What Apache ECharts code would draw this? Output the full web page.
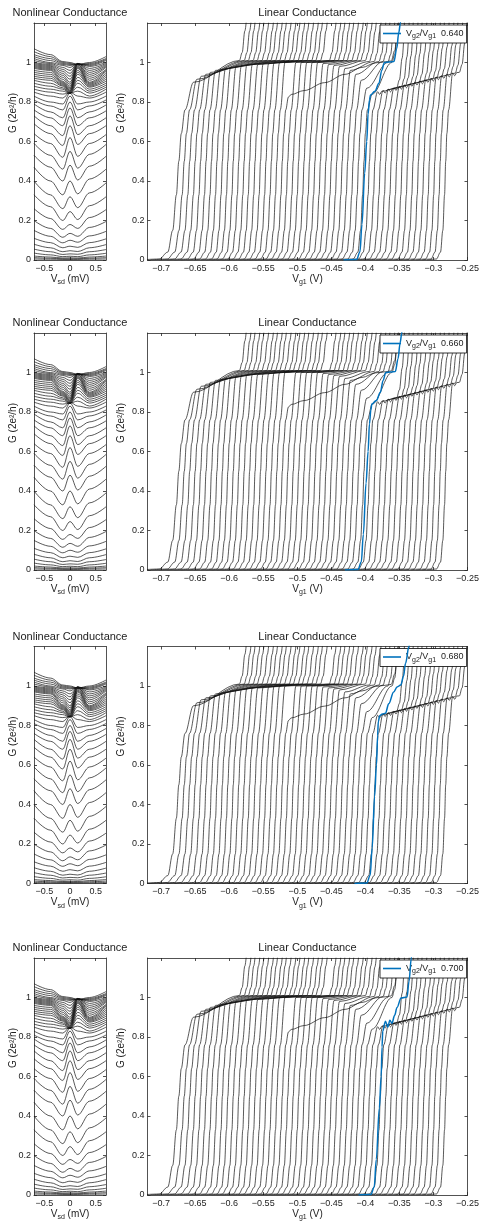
<!DOCTYPE html>
<html><head><meta charset="utf-8">
<script src="https://cdn.jsdelivr.net/npm/echarts@6/dist/echarts.min.js"></script>
<style>html,body{margin:0;padding:0;background:#fff}#c{width:485px;height:1226px}</style>
</head><body><div id="c"></div>
<script>
// ---------------- DATA ----------------
const ratioLabels = ['0.640', '0.660', '0.680', '0.700'];
const nlTicks = [-0.5, 0, 0.5];
const linTicks = [-0.7, -0.65, -0.6, -0.55, -0.5, -0.45, -0.4, -0.35, -0.3, -0.25];
const gTicks = [0, 0.2, 0.4, 0.6, 0.8, 1];

// Nonlinear conductance: knot bias positions (mV) and per-trace G values at those knots
const nlX = [-0.7, -0.38, -0.14, 0, 0.15, 0.38, 0.7];
const nlEdgeL = [0.005,0.012,0.02,0.035,0.055,0.08,0.11,0.15,0.2,0.26,0.33,0.4,0.47,0.53,0.59,0.64,0.69,0.73,0.76,0.79,0.81,0.83,0.85,0.865,0.88,0.895,0.91,0.92,0.93,0.94,0.95,0.96,0.97,0.975,0.98,0.985,0.99,0.995,1.0,1.01,1.02,1.03,1.04,1.055,1.07];
const nlShL   = [0.004,0.009,0.015,0.026,0.042,0.062,0.088,0.12,0.16,0.21,0.27,0.33,0.4,0.47,0.53,0.59,0.64,0.68,0.72,0.75,0.78,0.8,0.83,0.85,0.865,0.88,0.895,0.91,0.92,0.93,0.94,0.95,0.96,0.965,0.97,0.975,0.98,0.985,0.99,0.995,1.0,1.01,1.02,1.03,1.04];
const nlDipL  = [0.003,0.006,0.01,0.017,0.028,0.042,0.062,0.087,0.115,0.155,0.2,0.26,0.33,0.4,0.46,0.52,0.58,0.63,0.68,0.72,0.76,0.79,0.82,0.84,0.855,0.865,0.872,0.88,0.885,0.89,0.895,0.9,0.905,0.915,0.925,0.935,0.945,0.955,0.965,0.975,0.985,0.99,0.995,1.0,1.005];
const nlPeak  = [0.003,0.006,0.011,0.019,0.031,0.047,0.07,0.1,0.135,0.18,0.245,0.32,0.4,0.48,0.55,0.62,0.68,0.73,0.77,0.8,0.83,0.845,0.85,0.845,0.843,0.843,0.845,0.848,0.852,0.856,0.86,0.866,0.872,0.88,0.89,0.9,0.915,0.93,0.945,0.96,0.975,0.985,0.99,0.995,1.0];
const nlDipR  = [0.003,0.006,0.01,0.017,0.029,0.043,0.064,0.09,0.12,0.16,0.205,0.265,0.335,0.405,0.465,0.525,0.585,0.635,0.68,0.72,0.76,0.79,0.83,0.855,0.875,0.895,0.91,0.925,0.94,0.95,0.96,0.97,0.975,0.98,0.985,0.99,0.99,0.995,0.995,0.995,0.995,0.99,0.99,0.99,0.99];
const nlShR   = [0.004,0.009,0.015,0.026,0.042,0.062,0.088,0.122,0.165,0.215,0.275,0.34,0.41,0.475,0.535,0.59,0.64,0.68,0.72,0.75,0.78,0.8,0.82,0.83,0.845,0.855,0.865,0.875,0.88,0.885,0.89,0.895,0.9,0.91,0.92,0.93,0.94,0.95,0.96,0.97,0.98,0.985,0.99,0.995,1.0];
const nlEdgeR = [0.005,0.012,0.02,0.034,0.053,0.078,0.107,0.145,0.195,0.255,0.32,0.39,0.46,0.525,0.585,0.635,0.68,0.72,0.755,0.785,0.81,0.83,0.85,0.865,0.875,0.885,0.895,0.905,0.915,0.925,0.935,0.945,0.955,0.96,0.965,0.975,0.98,0.985,0.99,0.995,1.0,1.01,1.015,1.02,1.03];

// Linear conductance: first-step rise shape (offset from G=0.5 crossing, V) and G
const riseDx = [-0.032, -0.016, -0.009, -0.005, -0.002, 0, 0.002, 0.005];
const riseG  = [0, 0.005, 0.04, 0.15, 0.33, 0.5, 0.64, 0.76];
// per trace: G=0.5 crossing, rise width factor, knee height, plateau end (V) and height, knee wiggle
const linXL = [-0.674,-0.666,-0.658,-0.650,-0.642,-0.634,-0.626,-0.618,-0.610,-0.602,
  -0.594,-0.586,-0.578,-0.570,-0.562,-0.554,-0.546,-0.538,-0.530,-0.522,
  -0.514,-0.506,-0.498,-0.490,-0.482,-0.474,-0.466,-0.458,-0.450,-0.442,
  -0.434,-0.426,-0.418,-0.410,-0.402,-0.394,-0.386,-0.378,-0.370,-0.362,
  -0.354,-0.346,-0.338,-0.330,-0.322,-0.314,-0.306,-0.298,-0.290,-0.282];
const linRiseW = [1.8,1.55,1.4,1.3,1.2,1.15,1.1,1.05,1.0,1.0, 1,1,1,1,1,1,1,1,1,1, 1,1,1,1,1,1,1,1,1,1,
  1,1,1,1,1,1,1,1,1,1, 0.95,0.95,0.9,0.9,0.9,0.9,0.85,0.85,0.85,0.85];
const linGK = [0.90,0.915,0.93,0.94,0.95,0.96,0.965,0.97,0.975,0.98,
  0.985,0.99,0.99,0.99,0.995,0.995,1.0,1.0,1.0,1.0,
  1.0,1.0,1.0,1.0,1.0,0.995,0.99,0.985,0.98,0.97,
  0.96,0.94,0.91,0.87,0.84,0.852,0.859,0.865,0.872,0.879,
  0.886,0.893,0.90,0.906,0.913,0.92,0.927,0.934,0.941,0.947];
const linXU = [-0.585,-0.578,-0.572,-0.565,-0.559,-0.552,-0.545,-0.539,-0.532,-0.526,
  -0.519,-0.512,-0.506,-0.499,-0.493,-0.486,-0.479,-0.473,-0.466,-0.460,
  -0.453,-0.446,-0.440,-0.433,-0.427,-0.420,-0.413,-0.407,-0.400,-0.394,
  -0.387,-0.380,-0.374,-0.367,-0.361,-0.354,-0.347,-0.341,-0.334,-0.328,
  -0.321,-0.314,-0.308,-0.301,-0.295,-0.288,-0.281,-0.275,-0.268,-0.262];
const linGU = [1.01,1.01,1.01,1.01,1.01,1.01,1.01,1.01,1.01,1.01,
  1.01,1.01,1.01,1.01,1.01,1.01,1.01,1.01,1.01,1.01,
  1.01,1.01,1.01,1.01,1.01,1.01,1.01,1.01,1.01,1.005,
  1.005,1.005,1.005,1.0,1.0,0.872,0.878,0.883,0.889,0.894,
  0.90,0.906,0.912,0.918,0.923,0.929,0.935,0.94,0.946,0.95];
const linWiggle = [0,0,0,0,0,0,0,0,0,0, 0,0,0,0,0,0,0,0,0,0, 0,0,0,0,0,0,0,0,0,0,
  0,0,0,0,0,0.014,0.014,0.014,0.014,0.014, 0.014,0.014,0.014,0.014,0.014,0.014,0.014,0.014,0.014,0.014];
// trace 19 has a long sloping 0.835 -> 1 shoulder
const linOutlierIndex = 19;
const linOutlier = [[-0.554,0],[-0.538,0.005],[-0.531,0.04],[-0.527,0.15],[-0.524,0.33],[-0.522,0.5],[-0.52,0.64],[-0.517,0.76],[-0.513,0.825],[-0.509,0.838],[-0.49,0.858],[-0.46,0.898],[-0.43,0.94],[-0.405,0.975],[-0.385,0.998],[-0.37,1.004],[-0.362,1.008],[-0.357,1.06],[-0.352,1.2],[-0.349,1.3]];
// highlighted (blue) trace in each panel
const blue640 = [[-0.432,0],[-0.413,0.002],[-0.408,0.04],[-0.405,0.18],[-0.401,0.44],[-0.398,0.6],[-0.396,0.74],[-0.394,0.81],[-0.3925,0.835],[-0.386,0.855],[-0.38,0.895],[-0.376,0.96],[-0.372,1.0],[-0.365,1.003],[-0.358,1.005],[-0.354,1.07],[-0.351,1.15],[-0.3485,1.2],[-0.347,1.25]];
const blue660 = [[-0.43,0],[-0.411,0.002],[-0.406,0.04],[-0.403,0.18],[-0.399,0.44],[-0.396,0.6],[-0.394,0.74],[-0.392,0.81],[-0.3905,0.84],[-0.384,0.858],[-0.378,0.9],[-0.374,0.96],[-0.37,1.0],[-0.363,1.003],[-0.356,1.005],[-0.352,1.07],[-0.349,1.15],[-0.3465,1.2],[-0.345,1.25]];
const blue680 = [[-0.416,0],[-0.398,0.002],[-0.393,0.04],[-0.39,0.18],[-0.3865,0.44],[-0.3837,0.6],[-0.382,0.75],[-0.381,0.82],[-0.379,0.85],[-0.375,0.858],[-0.3705,0.862],[-0.3657,0.91],[-0.3584,0.97],[-0.3534,0.995],[-0.348,1.005],[-0.344,1.05],[-0.341,1.115],[-0.336,1.2],[-0.334,1.25]];
const blue700 = [[-0.41,0],[-0.392,0.002],[-0.387,0.04],[-0.384,0.18],[-0.3795,0.44],[-0.3768,0.6],[-0.3755,0.75],[-0.3745,0.83],[-0.3705,0.88],[-0.367,0.85],[-0.364,0.885],[-0.361,0.87],[-0.357,0.91],[-0.3535,0.95],[-0.3475,0.998],[-0.3387,1.003],[-0.336,1.08],[-0.3325,1.2],[-0.331,1.25]];
const blueTraces = [blue640, blue660, blue680, blue700];

// ---------------- BUILD ----------------
const FONT = '"Liberation Sans", Arial, Helvetica, sans-serif';
const AX = '#262626';
const panelTop = [23, 333, 646.5, 958];
const plotH = 237;
const nlBox = {left: 34, width: 72};
const linBox = {left: 147.5, width: 320};

const option = {animation: false, grid: [], xAxis: [], yAxis: [], series: [], legend: [], graphic: []};

function fmt(v) { return String(v).replace('-', '\u2212'); }
const subRich = {
  v: {fontSize: 10, fontFamily: FONT, color: '#222', lineHeight: 14, verticalAlign: 'middle'},
  s: {fontSize: 7, fontFamily: FONT, color: '#222', lineHeight: 8, verticalAlign: 'bottom'}
};

function addGrid(box, top, xmin, xmax, xticks, xname) {
  const g = option.grid.length;
  option.grid.push({left: box.left, top: top, width: box.width, height: plotH});
  const lineStyle = {color: AX, width: 0.8};
  const tick = (vals) => ({show: true, inside: true, length: 3, lineStyle, customValues: vals});
  option.xAxis.push({gridIndex: g, type: 'value', min: xmin, max: xmax, position: 'bottom',
    axisLine: {show: true, onZero: false, lineStyle}, axisTick: tick(xticks), splitLine: {show: false},
    axisLabel: {customValues: xticks, formatter: fmt, fontSize: 9, fontFamily: FONT, color: '#222', margin: 4},
    name: xname, nameLocation: 'middle', nameGap: 10, nameTextStyle: {rich: subRich}});
  option.xAxis.push({gridIndex: g, type: 'value', min: xmin, max: xmax, position: 'top',
    axisLine: {show: true, onZero: false, lineStyle}, axisTick: tick(xticks), splitLine: {show: false},
    axisLabel: {show: false}});
  option.yAxis.push({gridIndex: g, type: 'value', min: 0, max: 1.2, position: 'left',
    axisLine: {show: true, onZero: false, lineStyle}, axisTick: tick(gTicks), splitLine: {show: false},
    axisLabel: {customValues: gTicks, fontSize: 9, fontFamily: FONT, color: '#222', margin: 3}});
  option.yAxis.push({gridIndex: g, type: 'value', min: 0, max: 1.2, position: 'right',
    axisLine: {show: true, onZero: false, lineStyle}, axisTick: tick(gTicks), splitLine: {show: false},
    axisLabel: {show: false}});
  return {x: 2 * g, y: 2 * g};
}

function lineSeries(ax, data, color, width, z, name) {
  return {type: 'line', name: name, xAxisIndex: ax.x, yAxisIndex: ax.y, data: data,
    showSymbol: false, symbol: 'none', smooth: 0.35, smoothMonotone: 'x', silent: true, z: z,
    lineStyle: {color: color, width: width}, itemStyle: {color: color}};
}

function text(x, y, str, size, rot) {
  option.graphic.push({type: 'text', x: x, y: y, rotation: rot || 0, silent: true,
    style: {text: str, font: size + 'px ' + FONT, fill: '#222', textAlign: 'center', textVerticalAlign: 'middle'}});
}

const BLACK = '#111';
for (let r = 0; r < 4; r++) {
  const top = panelTop[r];
  // ---- nonlinear ----
  const axN = addGrid(nlBox, top, -0.7, 0.7, nlTicks, '{v|V}{s|sd}{v| (mV)}');
  const nN = Math.min(nlEdgeL.length, nlShL.length, nlDipL.length, nlPeak.length, nlDipR.length, nlShR.length, nlEdgeR.length);
  for (let k = 0; k < nN; k++) {
    const ys = [nlEdgeL[k], nlShL[k], nlDipL[k], nlPeak[k], nlDipR[k], nlShR[k], nlEdgeR[k]];
    option.series.push(lineSeries(axN, nlX.map((x, j) => [x, ys[j]]), BLACK, 0.7, 2));
  }
  // ---- linear ----
  const axL = addGrid(linBox, top, -0.72, -0.25, linTicks, '{v|V}{s|g1}{v| (V)}');
  for (let i = 0; i < linXL.length; i++) {
    if (i === linOutlierIndex) {
      option.series.push(lineSeries(axL, linOutlier, BLACK, 0.7, 2));
      continue;
    }
    const xl = linXL[i];
    const w = linRiseW[i];
    const pts = riseDx.map((d, j) => [xl + d * w, riseG[j]]);
    const xk = xl + 0.012 * w;
    pts.push([xk, linGK[i]]);
    if (linWiggle[i] > 0) {
      pts.push([xk + 0.003, linGK[i] - linWiggle[i]]);
      pts.push([xk + 0.006, linGK[i] + 0.002]);
    }
    pts.push([linXU[i], linGU[i]]);
    pts.push([linXU[i] + 0.004, linGU[i] + 0.04]);
    pts.push([linXU[i] + 0.008, linGU[i] + 0.15]);
    pts.push([linXU[i] + 0.013, 1.35]);
    option.series.push(lineSeries(axL, pts, BLACK, 0.7, 2));
  }
  option.series.push(lineSeries(axL, blueTraces[r], '#0072BD', 1.5, 5, 'b' + r));
  // legend
  option.legend.push({show: true, left: 380, top: top + 2, data: [{name: 'b' + r, icon: 'rect'}],
    itemWidth: 18, itemHeight: 1.6, itemGap: 0, padding: [4, 3, 3, 3],
    borderColor: '#000', borderWidth: 0.8, backgroundColor: '#fff', selectedMode: false,
    formatter: () => '{v|V}{s|g2}{v|/V}{s|g1}{v|  ' + ratioLabels[r] + '}',
    textStyle: {rich: {
      v: {fontSize: 9, fontFamily: FONT, color: '#222', lineHeight: 13, verticalAlign: 'middle'},
      s: {fontSize: 7, fontFamily: FONT, color: '#222', lineHeight: 7, verticalAlign: 'bottom'}}}});
  // titles and y names
  text(nlBox.left + nlBox.width / 2, top - 10, 'Nonlinear Conductance', 11);
  text(linBox.left + linBox.width / 2, top - 10, 'Linear Conductance', 11);
  text(13, top + 90, 'G (2e\u00B2/h)', 10, Math.PI / 2);
  text(121, top + 90, 'G (2e\u00B2/h)', 10, Math.PI / 2);
}

const chart = echarts.init(document.getElementById('c'), null, {renderer: 'canvas'});
chart.setOption(option);
</script></body></html>
